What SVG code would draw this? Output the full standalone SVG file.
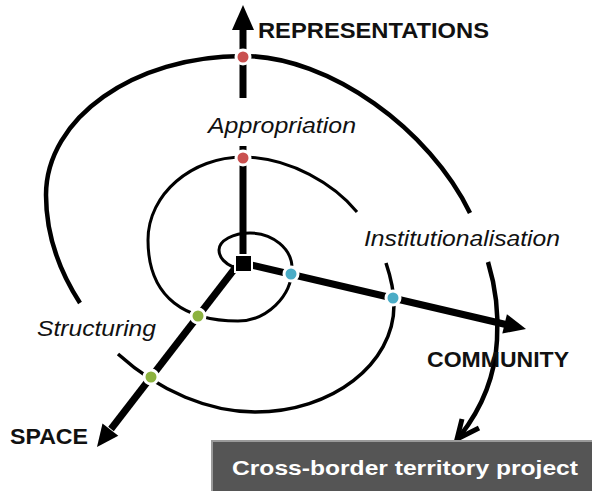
<svg xmlns="http://www.w3.org/2000/svg" width="592" height="491" viewBox="0 0 592 491">
  <style>
    .spiral { fill: none; stroke: #000; stroke-linecap: butt; }
    .axis { stroke: #000; stroke-width: 7; fill: none; }
    .head { fill: #000; }
    .dot { stroke: #fff; stroke-width: 3; }
    .red { fill: #c9504f; }
    .blue { fill: #4bacc6; }
    .green { fill: #8cb23f; }
    .axisLabel { font-family: "Liberation Sans", Arial, sans-serif; font-weight: bold; font-size: 22px; fill: #111; }
    .phase { font-family: "Liberation Sans", Arial, sans-serif; font-style: italic; font-size: 22px; fill: #111; }
    .project { font-family: "Liberation Sans", Arial, sans-serif; font-weight: bold; font-size: 21px; fill: #fff; }
  </style>

  <rect width="592" height="491" fill="#fff"/>

  <!-- spiral and axes -->
  <g id="connectors">
    <!-- inner turns of the spiral -->
    <path class="spiral" stroke-width="3" d="M233,267 C226,264 219,258 219,250 C219,240.6 233,233 250,233 C273,233 292,249 292,268 C292,297 266,321 238,321 C188,321 148,300 148,240 C148,194 192,157 243,157 C290,157 335,185 357,212"/>
    <path class="spiral" stroke-width="3.5" d="M386,263 C390,275 394,290 394,305 C394,364 332,412 255,412 C210,412 160,392 118,354"/>
    <!-- outer turn -->
    <path class="spiral" stroke-width="4.5" d="M80,303 C60,272 46,235 46,195 C46,118 134,56 243,56 C330,56 430,130 470,213"/>
    <path class="spiral" stroke-width="4.5" d="M488,262 C495,285 499,310 497,340 C495,378 482,408 460,436"/>
    <path d="M462,419 L457,439 L479,428" fill="none" stroke="#000" stroke-width="5" stroke-linejoin="miter"/>

    <!-- REPRESENTATIONS axis -->
    <line class="axis" x1="243" y1="263" x2="243" y2="146"/>
    <line class="axis" x1="243" y1="98" x2="243" y2="27"/>
    <polygon class="head" points="243,5 254,30 232,30"/>

    <!-- COMMUNITY axis -->
    <line class="axis" x1="243" y1="263" x2="508" y2="325"/>
    <polygon class="head" points="526,329 502.3,333.6 506.9,314.2"/>

    <!-- SPACE axis -->
    <line class="axis" x1="236" y1="267" x2="111" y2="429"/>
    <polygon class="head" points="97,447 118.3,435.7 102.5,423.5"/>
  </g>

  <g id="origin">
    <rect x="235" y="255" width="17" height="17" fill="#000" stroke="#fff" stroke-width="2"/>
  </g>

  <g id="stage-dots">
    <circle class="dot red" cx="243" cy="57" r="7"/>
    <circle class="dot red" cx="243" cy="158" r="7"/>
    <circle class="dot blue" cx="291" cy="274" r="7"/>
    <circle class="dot blue" cx="393" cy="298" r="7"/>
    <circle class="dot green" cx="198" cy="316" r="7"/>
    <circle class="dot green" cx="151" cy="377" r="7"/>
  </g>

  <g id="representations">
    <text class="axisLabel" x="258" y="38" textLength="231" lengthAdjust="spacingAndGlyphs">REPRESENTATIONS</text>
  </g>
  <g id="community">
    <text class="axisLabel" x="427" y="367" textLength="142" lengthAdjust="spacingAndGlyphs">COMMUNITY</text>
  </g>
  <g id="space">
    <text class="axisLabel" x="10" y="444" textLength="78" lengthAdjust="spacingAndGlyphs">SPACE</text>
  </g>

  <g id="appropriation">
    <text class="phase" x="208" y="133" textLength="148" lengthAdjust="spacingAndGlyphs">Appropriation</text>
  </g>
  <g id="institutionalisation">
    <text class="phase" x="364" y="246" textLength="196" lengthAdjust="spacingAndGlyphs">Institutionalisation</text>
  </g>
  <g id="structuring">
    <text class="phase" x="37" y="336" textLength="119" lengthAdjust="spacingAndGlyphs">Structuring</text>
  </g>

  <g id="project">
    <rect x="212" y="441" width="384" height="54" fill="#555" stroke="#9a9a9a" stroke-width="2"/>
    <text class="project" x="232" y="475" textLength="346" lengthAdjust="spacingAndGlyphs">Cross-border territory project</text>
  </g>
</svg>
